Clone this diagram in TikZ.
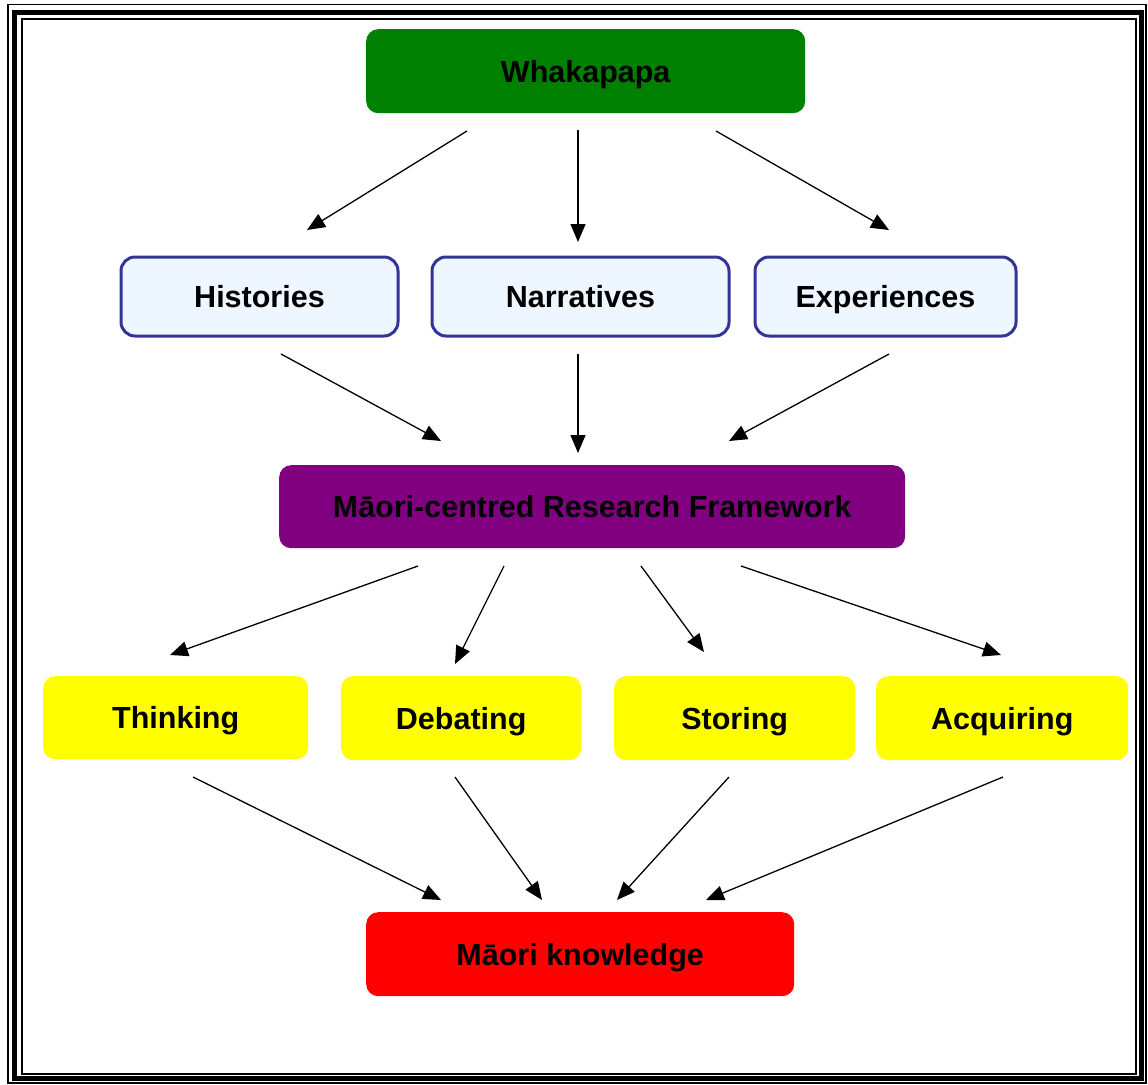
\documentclass[tikz,border=0pt]{standalone}
\usepackage{fontspec}
\setmainfont{Liberation Sans}
\usetikzlibrary{arrows.meta}
\definecolor{wgreen}{RGB}{0,128,0}
\definecolor{hfill}{RGB}{238,246,255}
\definecolor{hedge}{RGB}{51,51,153}
\definecolor{mpurple}{RGB}{128,0,128}
\definecolor{kyellow}{RGB}{255,255,0}
\definecolor{kred}{RGB}{255,0,0}
\tikzset{
  box/.style={rectangle, rounded corners=12pt, inner sep=0pt, anchor=north west,
    font=\fontsize{30.5}{36}\selectfont\bfseries, text height=21.8pt, text depth=0pt},
  topbox/.style={box, fill=wgreen},
  midbox/.style={box, fill=hfill, draw=hedge, line width=3pt, rounded corners=14pt},
  frbox/.style={box, fill=mpurple},
  actbox/.style={box, fill=kyellow},
  endbox/.style={box, fill=kred},
  link/.style={line width=1.3pt, -{Triangle[length=18pt,width=15pt]}}
}
\begin{document}
\begin{tikzpicture}[x=1pt,y=-1pt]
\useasboundingbox (0,0) rectangle (1148,1084);
% page frame: thin, thick, thin
\draw[line width=1.5pt] (8,4.5) rectangle (1146,1083);
\draw[line width=5pt] (14.5,12.2) rectangle (1141,1078.5);
\draw[line width=2pt] (22,19) rectangle (1136,1074);

% boxes
\node[topbox, minimum width=439pt, minimum height=84pt] (wh) at (366,29) {Whakapapa};
\node[midbox, minimum width=277pt, minimum height=79pt] (hi) at (119.5,255.5) {Histories};
\node[midbox, minimum width=297pt, minimum height=79pt] (na) at (430.5,255.5) {Narratives};
\node[midbox, minimum width=261pt, minimum height=79pt] (ex) at (753.5,255.5) {Experiences};
\node[frbox, minimum width=626pt, minimum height=83pt] (fr) at (279,465) {Māori-centred Research Framework};
\node[actbox, minimum width=265pt, minimum height=83pt] (th) at (43,676) {Thinking};
\node[actbox, minimum width=240pt, minimum height=84pt] (de) at (341,676) {Debating};
\node[actbox, minimum width=241pt, minimum height=84pt] (st) at (614,676) {Storing};
\node[actbox, minimum width=252pt, minimum height=84pt] (ac) at (876,676) {Acquiring};
\node[endbox, minimum width=428pt, minimum height=84pt] (mk) at (366,912) {Māori knowledge};

% connector ends
\coordinate (wh1) at (467,131); \coordinate (hi0) at (307,230);
\coordinate (wh2) at (578,130); \coordinate (na0) at (578,242);
\coordinate (wh3) at (716,131); \coordinate (ex0) at (889,230);
\coordinate (hi1) at (281,354); \coordinate (fr1) at (441,441);
\coordinate (na1) at (578,354); \coordinate (fr2) at (578,453);
\coordinate (ex1) at (889,354); \coordinate (fr3) at (729,441);
\coordinate (frA) at (418,566); \coordinate (th0) at (170,655);
\coordinate (frB) at (504,566); \coordinate (de0) at (455,664);
\coordinate (frC) at (641,566); \coordinate (st0) at (704,652);
\coordinate (frD) at (741,566); \coordinate (ac0) at (1001,655);
\coordinate (th1) at (193,777); \coordinate (mk1) at (441,900);
\coordinate (de1) at (455,777); \coordinate (mk2) at (542,900);
\coordinate (st1) at (729,777); \coordinate (mk3) at (617,900);
\coordinate (ac1) at (1003,777); \coordinate (mk4) at (706,900);

% connectors
\draw[link] (wh1) -- (hi0);
\draw[link] (wh2) -- (na0);
\draw[link] (wh3) -- (ex0);
\draw[link] (hi1) -- (fr1);
\draw[link] (na1) -- (fr2);
\draw[link] (ex1) -- (fr3);
\draw[link] (frA) -- (th0);
\draw[link] (frB) -- (de0);
\draw[link] (frC) -- (st0);
\draw[link] (frD) -- (ac0);
\draw[link] (th1) -- (mk1);
\draw[link] (de1) -- (mk2);
\draw[link] (st1) -- (mk3);
\draw[link] (ac1) -- (mk4);
\end{tikzpicture}
\end{document}
